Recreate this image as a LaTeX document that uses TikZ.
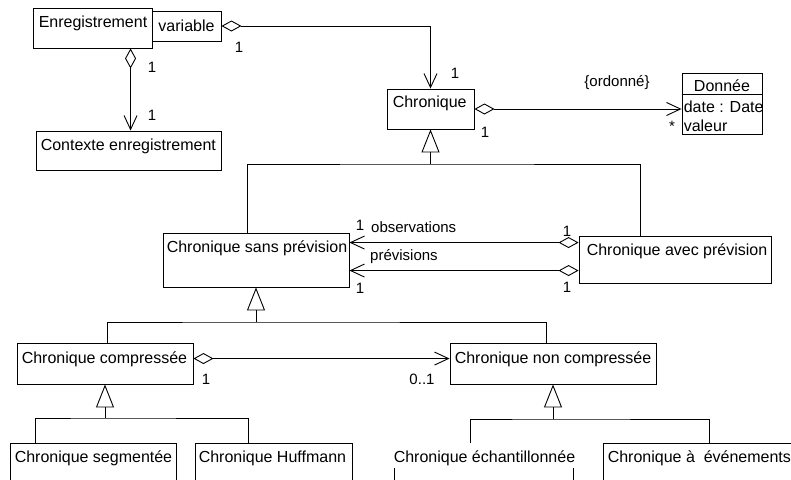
\documentclass[tikz,border=0pt]{standalone}
\usepackage{fontspec}
\setmainfont{Liberation Sans}
\usetikzlibrary{arrows.meta,fit,calc}
\tikzset{
  clsbox/.style={draw, line width=0.9pt, inner sep=0pt},
  clsname/.style={anchor=base west, inner sep=0pt, font=\fontsize{16}{19}\selectfont},
  lbl/.style={inner sep=0pt, font=\fontsize{15}{18}\selectfont},
  conn/.style={line width=0.9pt},
  agg/.style={conn, {Diamond[open,length=20pt,width=11pt]}-{Straight Barb[length=14pt,width=13pt]}},
  gen/.style={conn, -{Triangle[open,length=23pt,width=18pt]}},
}
\begin{document}
\begin{tikzpicture}[x=1pt,y=-1pt]
\useasboundingbox (0,0) rectangle (791,479);
% class boxes
\node[clsbox, fit={(33,8) (152,48)}] (enr) {};
\node[clsbox, fit={(152,11) (221,41)}] (var) {};
\node[clsbox, fit={(36,131) (221,170)}] (ctx) {};
\node[clsbox, fit={(387,89) (474,129)}] (chron) {};
\node[clsbox, fit={(682,73) (762,134)}] (don) {};
\node[clsbox, fit={(163,233) (349,287)}] (sans) {};
\node[clsbox, fit={(579,236) (771,283)}] (avec) {};
\node[clsbox, fit={(17,343) (193,384)}] (comp) {};
\node[clsbox, fit={(450,343) (656,384)}] (ncomp) {};
\node[clsbox, fit={(10,443) (176,495)}] (seg) {};
\node[clsbox, fit={(195,443) (352,495)}] (huf) {};
\node[clsbox, fit={(394,443) (573,495)}] (ech) {};
\node[clsbox, fit={(603,443) (800,495)}] (evt) {};
\draw[line width=0.9pt] (don.west |- 0,94) -- (don.east |- 0,94);
% class names
\node[clsname] (tenr) at ($(enr.north west)+(6,20)$) {Enregistrement};
\node[clsname, anchor=base] (tvar) at ($(var.north)+(0,21)$) {variable};
\node[clsname] (tctx) at ($(ctx.north west)+(5,19.5)$) {Contexte enregistrement};
\node[clsname] (tchron) at ($(chron.north west)+(6,19)$) {Chronique};
\node[clsname, anchor=base] (tdon) at ($(don.north)+(0,18.5)$) {Donnée};
\node[clsname] (tdate) at ($(don.north west)+(2,40)$) {date : Date};
\node[clsname] (tval) at ($(don.north west)+(2,59)$) {valeur};
\node[clsname] (tsans) at ($(sans.north west)+(4,19.5)$) {Chronique sans prévision};
\node[clsname] (tavec) at ($(avec.north west)+(8,20)$) {Chronique avec prévision};
\node[clsname] (tcomp) at ($(comp.north west)+(5,21)$) {Chronique compressée};
\node[clsname] (tncomp) at ($(ncomp.north west)+(5,20.5)$) {Chronique non compressée};
\node[clsname] (tseg) at ($(seg.north west)+(5,19.5)$) {Chronique segmentée};
\node[clsname] (thuf) at ($(huf.north west)+(4,19.5)$) {Chronique Huffmann};
\node[clsname, fill=white, inner xsep=1pt, inner ysep=0pt, text depth=6pt, text height=19pt] (tech) at ($(ech.north west)+(-1,19.5)$) {Chronique échantillonnée};
\node[clsname] (tevt) at ($(evt.north west)+(5,19.5)$) {Chronique à\ \ événements};
% aggregations
\draw[agg] (var.east) -| (chron.north);
\draw[agg] ([xshift=98pt]enr.south west) -- ([xshift=95pt]ctx.north west);
\draw[agg] (chron.east) -- (chron.east -| don.west);
\draw[agg] ([yshift=-7pt]avec.north west) -- ([yshift=-7pt]avec.north west -| sans.east);
\draw[agg] ([yshift=-35pt]avec.north west) -- ([yshift=-35pt]avec.north west -| sans.east);
\draw[agg] ([yshift=-16pt]comp.north east) -- ([yshift=-16pt]comp.north east -| ncomp.west);
% generalizations
\coordinate (j1) at (chron.south |- 0,164);
\draw[conn] ([xshift=85pt]sans.north west) |- (j1) -| ([xshift=62pt]avec.north west);
\draw[gen] (j1) -- (chron.south);
\coordinate (j2) at (sans.south |- 0,322);
\draw[conn] ([xshift=91pt]comp.north west) |- (j2) -| ([xshift=97pt]ncomp.north west);
\draw[gen] (j2) -- (sans.south);
\coordinate (j3) at (comp.south |- 0,418);
\draw[conn] ([xshift=26pt]seg.north west) |- (j3) -| ([xshift=54pt]huf.north west);
\draw[gen] (j3) -- (comp.south);
\coordinate (j4) at (ncomp.south |- 0,419);
\draw[conn] ([xshift=77pt]ech.north west) |- (j4) -| ([xshift=107pt]evt.north west);
\draw[gen] (j4) -- (ncomp.south);
% labels
\node[lbl] (m1) at (239,47) {1};
\node[lbl] (m2) at (455,73) {1};
\node[lbl] (m3) at (152,67) {1};
\node[lbl] (m4) at (152,115) {1};
\node[lbl] (ord) at (617,83) {\{ordonné\}};
\node[lbl] (m5) at (485,132) {1};
\node[lbl] (star) at (672,126) {*};
\node[lbl] (m6) at (360,225) {1};
\node[lbl, anchor=base west] (obs) at (371,232) {observations};
\node[lbl, anchor=base west] (prev) at (370,260) {prévisions};
\node[lbl] (m7) at (360,288) {1};
\node[lbl] (m8) at (567,231) {1};
\node[lbl] (m9) at (567,287) {1};
\node[lbl] (m10) at (206,379) {1};
\node[lbl] (m11) at (422,379) {0..1};
\end{tikzpicture}
\end{document}
